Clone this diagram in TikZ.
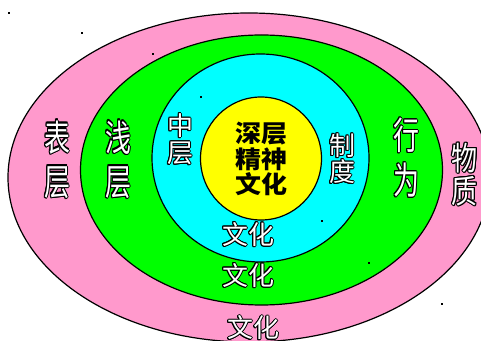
\documentclass[tikz,border=0pt]{standalone}
\usepackage{fontspec}
\newfontfamily\cjk{Noto Sans CJK SC}
\definecolor{pinkc}{HTML}{FF99CC}
\definecolor{greenc}{HTML}{00FF00}
\definecolor{cyanc}{HTML}{00FFFF}
\definecolor{yellowc}{HTML}{FFFF00}
\tikzset{
  ring/.style={draw=black, line width=1.2pt},
  lab/.style={inner sep=0pt, align=center, transform shape},
  dotmark/.style={fill=black},
}
% outlined (white with black edge) label: name, position, options, text
\newcommand\olab[4]{%
  \foreach \a in {0,30,...,330} {%
    \node[lab,#3,text=black,shift={(\a:1pt)}] (#1s\a) at (#2) {#4};}
  \node[lab,#3,text=white] (#1) at (#2) {#4};
}
\begin{document}
\begin{tikzpicture}[x=1pt,y=1pt]
\useasboundingbox (0,0) rectangle (481,340);
\clip (0,0) rectangle (481,340);
% rings
\draw[ring, fill=pinkc]   (249,162.5) ellipse [x radius=241, y radius=164.5];
\draw[ring, fill=greenc]  (261.5,170) ellipse [x radius=181, y radius=135];
\draw[ring, fill=cyanc]   (260.5,182) ellipse [x radius=108.5, y radius=104];
\draw[ring, fill=yellowc] (261,181.5) ellipse [x radius=60.5, y radius=61.5];
% tiny marks
\foreach \p in {(9,327),(82,307),(153,286),(201,243),(322,119),(369,77),(442,36)}
  \fill[dotmark] \p ++(-1,-0.75) rectangle ++(2,1.5);
% center text
\node[lab, font=\cjk\bfseries\fontsize{26}{27.5}\selectfont, text=black, yscale=0.93] (core) at (261,181) {深层\\精神\\文化};
% outlined labels
\olab{biao}{57,180.5}{font=\cjk\fontsize{26}{31.4}\selectfont, yscale=1.4}{表\\层}
\olab{qian}{118,180.5}{font=\cjk\fontsize{26}{31.4}\selectfont, yscale=1.4}{浅\\层}
\olab{zhong}{180,200.5}{font=\cjk\fontsize{26}{27}\selectfont}{中\\层}
\olab{zhi}{342,181}{font=\cjk\fontsize{26}{26}\selectfont}{制\\度}
\olab{xing}{406,182.5}{font=\cjk\fontsize{26}{31}\selectfont, yscale=1.45}{行\\为}
\olab{wu}{464.5,165.5}{font=\cjk\fontsize{26}{26.4}\selectfont, yscale=1.25}{物\\质}
\olab{wh1}{248,105.5}{font=\cjk\fontsize{26}{26}\selectfont}{文化}
\olab{wh2}{248,64.5}{font=\cjk\fontsize{26}{26}\selectfont}{文化}
\olab{wh3}{253,12}{font=\cjk\fontsize{26}{26}\selectfont}{文化}
\end{tikzpicture}
\end{document}
